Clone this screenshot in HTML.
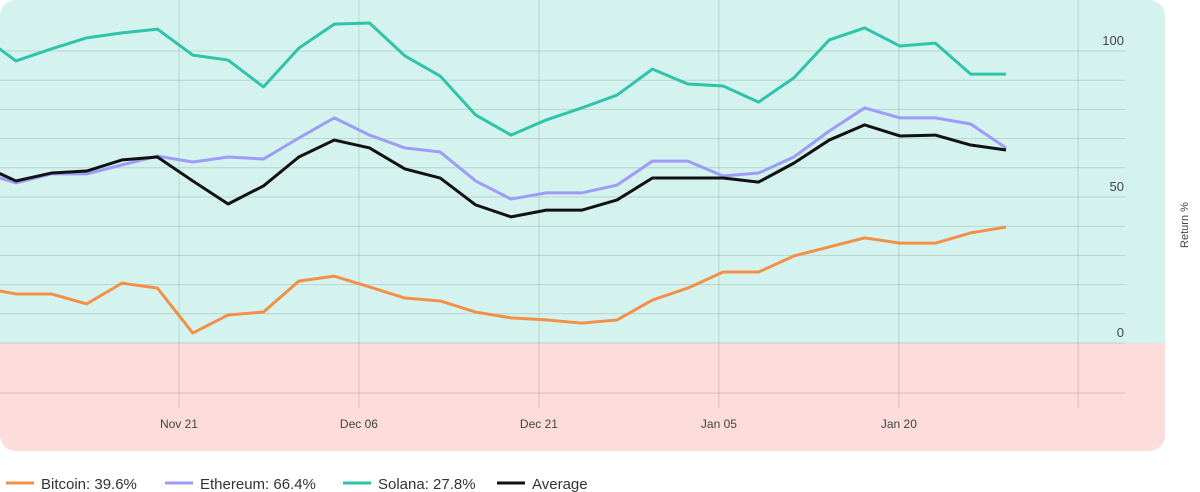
<!DOCTYPE html>
<html><head><meta charset="utf-8"><style>
body{margin:0;width:1200px;height:492px;background:#fff;overflow:hidden;font-family:"Liberation Sans",sans-serif}
svg{position:absolute;left:0;top:0}
</style></head><body>
<svg id="chart" width="1200" height="492">
<defs><clipPath id="card"><rect x="0" y="0" width="1165" height="451" rx="16"/></clipPath></defs>
<g clip-path="url(#card)">
<rect x="-20" y="-20" width="1185" height="363" fill="#d5f3ee"/>
<rect x="-20" y="343" width="1185" height="128" fill="#fddcdc"/>
<g id="grid"></g>
<g id="lines"></g>
</g>
<g id="labels" font-size="13" fill="#444"></g>
<text x="1188" y="225" font-size="11" fill="#444" text-anchor="middle" transform="rotate(-90 1188 225)">Return %</text>
<g id="legend" font-size="15" fill="#333"></g>
</svg>
<script>
const bitcoin=[19.0,16.8,16.8,13.4,20.5,18.8,3.4,9.6,10.6,21.2,22.9,19.2,15.4,14.4,10.6,8.6,7.9,6.8,7.9,14.7,18.8,24.3,24.3,29.8,32.9,36.0,34.2,34.2,37.7,39.7];
const ethereum=[58.6,54.8,57.9,57.9,61.0,64.0,62.0,63.7,63.0,70.2,77.1,71.2,66.8,65.4,55.5,49.3,51.4,51.4,54.1,62.3,62.3,57.2,58.2,63.7,72.6,80.5,77.1,77.1,75.0,66.8];
const solana=[105.5,96.6,100.7,104.5,106.2,107.5,98.6,96.9,87.7,101.0,109.2,109.6,98.3,91.4,78.1,71.2,76.4,80.5,84.9,93.8,88.7,88.0,82.5,90.8,103.8,107.9,101.7,102.7,92.1,92.1];
const average=[61.0,55.5,58.2,58.9,62.7,63.7,55.5,47.6,53.8,63.7,69.5,66.8,59.6,56.5,47.3,43.2,45.5,45.5,49.0,56.5,56.5,56.5,55.1,61.6,69.5,74.7,70.9,71.2,67.8,66.1];
const xTickLabels=["Nov 21","Dec 06","Dec 21","Jan 05","Jan 20",""];
const xTickIdx=[5.61,10.7,15.79,20.88,25.97,31.04];
const yTicks=[0,50,100];
const legendLabels=["Bitcoin: 39.6%","Ethereum: 66.4%","Solana: 27.8%","Average"];
const NS="http://www.w3.org/2000/svg";
function xs(i){return -19.4+i*35.36;}
function ys(v){return 343-v*2.92;}
function mk(t,a,p){const e=document.createElementNS(NS,t);for(const k in a)e.setAttribute(k,a[k]);p.appendChild(e);return e;}
const grid=document.getElementById('grid');
for(let v=100;v>=-10;v-=10){const y=v===-10?393:ys(v);const l=mk('line',{x1:0,x2:1125,y1:y,y2:y,stroke:'rgba(0,0,0,0.13)','stroke-width':1},grid);

}
const lab=document.getElementById('labels');
xTickIdx.forEach((t,i)=>{const x=xs(t);const l=mk('line',{x1:x,x2:x,y1:0,y2:408,stroke:'rgba(0,0,0,0.13)','stroke-width':1},grid);


if(xTickLabels[i]){const tx=mk('text',{x:x,y:428,'text-anchor':'middle','font-size':12},lab);tx.textContent=xTickLabels[i];

}});
yTicks.forEach(v=>{const tx=mk('text',{x:1124,y:ys(v)-6,'text-anchor':'end'},lab);tx.textContent=v;

});
const series=[[bitcoin,'#f29048','bitcoin-line'],[ethereum,'#9d9cf7','ethereum-line'],[solana,'#2ec4a9','solana-line'],[average,'#111','average-line']];
const lg=document.getElementById('lines');
series.forEach(s=>{const p=mk('polyline',{points:s[0].map((v,i)=>xs(i)+','+ys(v)).join(' '),fill:'none',stroke:s[1],'stroke-width':3,'stroke-linejoin':'round'},lg);

});
const leg=document.getElementById('legend');const lx=[6,165,343,497];
legendLabels.forEach((t,i)=>{const g=mk('g',{},leg);


mk('line',{x1:lx[i],x2:lx[i]+28,y1:483,y2:483,stroke:series[i][1],'stroke-width':3},g);
const tx=mk('text',{x:lx[i]+35,y:489},g);tx.textContent=t;});
</script>
</body></html>
